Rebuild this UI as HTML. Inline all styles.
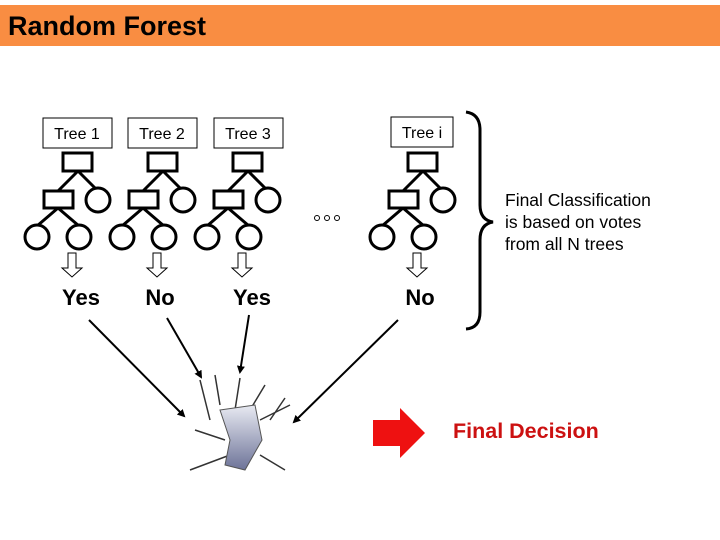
<!DOCTYPE html>
<html><head><meta charset="utf-8"><style>
body{margin:0;width:720px;height:540px;background:#fff;overflow:hidden;position:relative;font-family:"Liberation Sans",sans-serif}
</style></head><body>
<svg width="720" height="540" style="position:absolute;left:0;top:0" font-family="Liberation Sans, sans-serif">
<defs>
<marker id="ah" markerWidth="8" markerHeight="8" refX="6" refY="4" orient="auto" markerUnits="userSpaceOnUse"><path d="M0,0 L8,4 L0,8 Z" fill="#000"/></marker>
<linearGradient id="pg" x1="0" y1="0" x2="0" y2="1"><stop offset="0" stop-color="#e8eaf2"/><stop offset="1" stop-color="#6d7398"/></linearGradient>
<g id="tree" fill="#fff" stroke="#000" stroke-width="3">
<line x1="78" y1="171" x2="58" y2="191"/><line x1="78" y1="171" x2="98" y2="191"/>
<line x1="58" y1="208" x2="37" y2="226"/><line x1="58" y1="208" x2="79" y2="226"/>
<rect x="63" y="153" width="29" height="18"/>
<rect x="44" y="191" width="29" height="17"/>
<circle cx="98" cy="200" r="12"/>
<circle cx="37" cy="237" r="12"/><circle cx="79" cy="237" r="12"/>
<path d="M68,253 h8 v15 h6 l-10,9 l-10,-9 h6 z" stroke-width="1"/>
</g>
</defs>
<rect x="0" y="5" width="720" height="41" fill="#f98d42"/>
<text x="8" y="35" font-size="27" font-weight="bold">Random Forest</text>
<g fill="#fff" stroke="#000" stroke-width="1">
<rect x="43" y="118" width="69" height="30"/><rect x="128" y="118" width="69" height="30"/>
<rect x="214" y="118" width="69" height="30"/><rect x="391" y="117" width="62" height="30"/>
</g>
<g font-size="16" text-anchor="middle">
<text x="77" y="139">Tree 1</text><text x="162" y="139">Tree 2</text><text x="248" y="139">Tree 3</text><text x="422" y="138">Tree i</text>
</g>
<use href="#tree"/><use href="#tree" x="85"/><use href="#tree" x="170"/><use href="#tree" x="345"/>
<g fill="none" stroke="#000" stroke-width="1"><circle cx="317" cy="218" r="2.5"/><circle cx="327" cy="218" r="2.5"/><circle cx="337" cy="218" r="2.5"/></g>
<g font-size="22" font-weight="bold" text-anchor="middle">
<text x="81" y="305">Yes</text><text x="160" y="305">No</text><text x="252" y="305">Yes</text><text x="420" y="305">No</text>
</g>
<path d="M466,112 Q480,114 480,130 L480,205 Q480,220 493,222 Q480,224 480,240 L480,312 Q480,328 466,329" fill="none" stroke="#000" stroke-width="3"/>
<g font-size="17.5"><text x="505" y="206">Final Classification</text><text x="505" y="228">is based on votes</text><text x="505" y="250">from all N trees</text></g>
<g stroke="#000" stroke-width="2" marker-end="url(#ah)">
<line x1="89" y1="320" x2="184" y2="416"/><line x1="167" y1="318" x2="201" y2="377"/>
<line x1="249" y1="315" x2="240" y2="372"/><line x1="398" y1="320" x2="294" y2="422"/>
</g>
<g stroke="#333" stroke-width="1.5" fill="none">
<path d="M200,380 L210,420 M215,375 L220,405 M240,378 L235,410 M265,385 L250,410 M290,405 L260,420 M195,430 L225,440 M190,470 L230,455 M285,470 L260,455 M285,398 L270,420"/>
</g>
<path d="M220,410 L255,405 L262,440 L245,470 L225,465 L230,440 Z" fill="url(#pg)" stroke="#555"/>
<path d="M373,420 h27 v-12 l25,25 l-25,25 v-12 h-27 z" fill="#ee1111"/>
<text x="453" y="438" font-size="21.5" font-weight="bold" fill="#cc1111">Final Decision</text>
</svg>
</body></html>
